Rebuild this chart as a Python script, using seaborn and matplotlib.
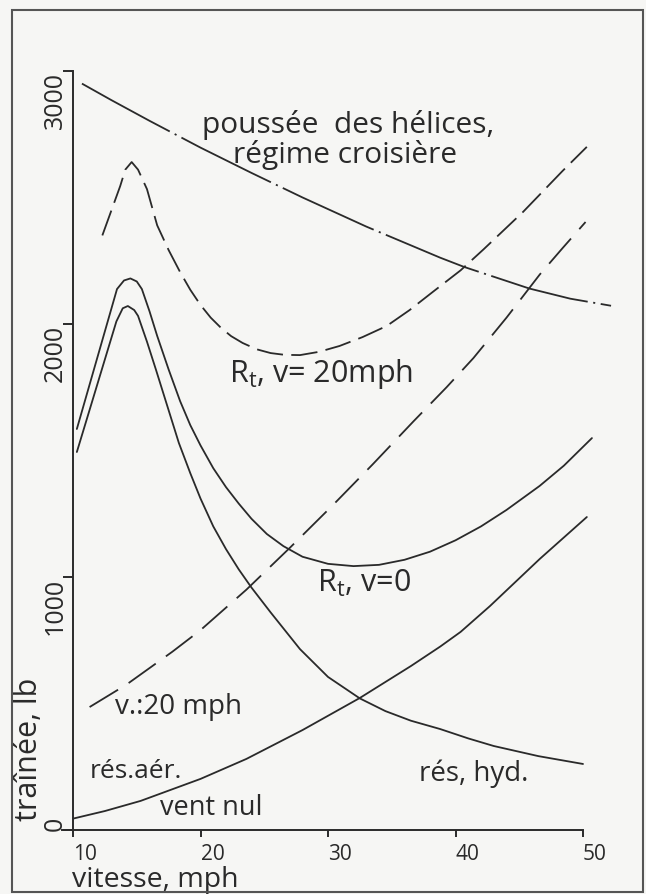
"""Drag vs speed chart (traînée / vitesse) redrawn in seaborn."""

import matplotlib.pyplot as plt
import numpy as np
import pandas as pd
import seaborn as sns
from matplotlib.patches import Rectangle

# propeller thrust, cruise setting (dash-dot)
speed_thrust = [10.7, 13.0, 16.0, 20.0, 24.0, 28.0, 33.0, 38.8, 40.7, 45.8, 49.0, 52.2]
thrust = [2950, 2885, 2803, 2697, 2597, 2500, 2385, 2262, 2225, 2140, 2100, 2072]

# total resistance, wind 20 mph (dashed)
speed_rt20 = [12.3, 13.7, 14.1, 14.6, 15.1, 15.8, 16.6, 17.5, 18.4, 19.2, 20.0, 20.8,
              21.6, 22.4, 23.3, 24.4, 25.5, 26.6, 27.8, 29.3, 30.9, 32.7, 34.6,
              36.4, 38.2, 40.4, 42.2, 45.3, 48.4, 50.3]
rt20 = [2350, 2545, 2610, 2640, 2610, 2533, 2390, 2292, 2205, 2135, 2075, 2025,
        1985, 1952, 1925, 1900, 1885, 1878, 1877, 1890, 1913, 1948, 1992,
        2055, 2126, 2212, 2295, 2443, 2605, 2700]

# total resistance, no wind
speed_rt0 = [10.3, 13.45, 14.0, 14.5, 15.0, 15.4, 16.0, 16.6, 17.5, 18.4, 19.2, 20.0,
             21.0, 22.0, 23.0, 24.0, 25.2, 26.5, 28.0, 30.0, 32.0, 34.0, 36.0,
             38.0, 40.0, 42.0, 44.0, 46.6, 48.5, 50.7]
rt0 = [1585, 2138, 2172, 2180, 2168, 2138, 2050, 1953, 1820, 1695, 1600, 1520,
       1430, 1355, 1290, 1230, 1170, 1122, 1080, 1052, 1043, 1048, 1068,
       1100, 1145, 1200, 1265, 1360, 1440, 1549]

# hydrodynamic resistance
speed_hyd = [10.3, 13.4, 13.9, 14.3, 14.8, 15.1, 15.8, 16.5, 17.4, 18.3, 19.2, 20.0,
             21.0, 22.0, 23.0, 24.0, 25.5, 27.8, 30.0, 32.5, 34.5, 36.5, 38.8,
             41.0, 43.0, 46.5, 50.0]
hyd = [1494, 2010, 2062, 2071, 2055, 2032, 1930, 1820, 1675, 1530, 1410, 1310,
       1200, 1110, 1030, 958, 860, 715, 605, 520, 470, 432, 399,
       362, 332, 292, 261]

# air resistance, no wind
speed_air = [10.0, 12.5, 15.3, 20.0, 23.6, 28.0, 32.5, 36.5, 38.8, 40.4, 42.7, 46.6, 50.3]
air = [45, 75, 115, 202, 281, 395, 522, 648, 725, 783, 885, 1071, 1237]

# air resistance, wind 20 mph (dashed)
speed_air20 = [11.3, 14.2, 17.8, 20.0, 23.6, 27.0, 30.4, 33.5, 36.7, 39.3, 41.4,
               44.0, 46.6, 48.4, 50.2]
air20 = [486, 575, 705, 790, 950, 1115, 1285, 1445, 1615, 1750, 1865,
         2025, 2195, 2300, 2403]

x_ticks = [10, 20, 30, 40, 50]
y_ticks = [0, 1000, 2000, 3000]

INK = "#2a2a2a"
PAPER = "#f6f6f4"

sns.set_theme(style="white")
plt.rcParams["font.family"] = ["Open Sans", "DejaVu Sans"]
plt.rcParams["mathtext.fontset"] = "custom"
plt.rcParams["mathtext.rm"] = "Open Sans"
plt.rcParams["mathtext.it"] = "Open Sans"
plt.rcParams["lines.scale_dashes"] = False

fig = plt.figure(figsize=(6.46, 8.95), dpi=100, facecolor=PAPER)
ax = fig.add_axes([0.0933, 0.0715, 0.898, 0.8905])
ax.set_facecolor(PAPER)
ax.set_xlim(9, 54.5)
ax.set_ylim(0, 3150)

curves = [
    (speed_thrust, thrust, (0, (72, 4, 1.5, 4))),
    (speed_rt20, rt20, (0, (19, 6))),
    (speed_rt0, rt0, "-"),
    (speed_hyd, hyd, "-"),
    (speed_air, air, "-"),
    (speed_air20, air20, (0, (24, 9))),
]
for xs, ys, ls in curves:
    df = pd.DataFrame({"vitesse": xs, "trainee": ys})
    sns.lineplot(data=df, x="vitesse", y="trainee", ax=ax, color=INK,
                 linewidth=1.3, linestyle=ls, estimator=None, sort=False,
                 clip_on=False)

# axes as in the drawing: y axis at 10 mph, x axis at 0 lb
for side in ["top", "right"]:
    ax.spines[side].set_visible(False)
ax.spines["left"].set_position(("data", 10))
ax.spines["left"].set_bounds(0, 3000)
ax.spines["bottom"].set_bounds(9.1, 50)
for side in ["left", "bottom"]:
    ax.spines[side].set_color(INK)
    ax.spines[side].set_linewidth(1.4)

ax.set_xticks(x_ticks, [str(v) for v in x_ticks])
ax.set_yticks(y_ticks, [str(v) for v in y_ticks])
ax.tick_params(axis="x", direction="out", length=5, width=1.4, pad=4,
               color=INK, labelcolor=INK, labelsize=15, bottom=True)
ax.tick_params(axis="y", direction="out", length=7, width=1.4, pad=-3.5,
               color=INK, labelcolor=INK, labelsize=18, left=True)
for lab in ax.get_xticklabels():
    lab.set_ha("left")
for lab, val in zip(ax.get_yticklabels(), y_ticks):
    lab.set_rotation(90)
    lab.set_va("bottom" if val == 0 else "top")

ax.set_xlabel("vitesse, mph", fontsize=20.5, color=INK, ha="left", va="top")
ax.xaxis.set_label_coords(0.02, -0.044)
ax.set_ylabel("traînée, lb", fontsize=22, color=INK, ha="center", va="center")
ax.yaxis.set_label_coords(-0.054, 0.102)

txt = dict(color=INK, va="baseline")
ax.text(31.6, 2758, "poussée  des hélices,", fontsize=21.5, ha="center", **txt)
ax.text(31.3, 2640, "régime croisière", fontsize=21.5, ha="center", **txt)
ax.text(22.2, 1775, r"R$_\mathrm{t}$, v= 20mph", fontsize=22, ha="left", **txt)
ax.text(29.1, 945, r"R$_\mathrm{t}$, v=0", fontsize=22, ha="left", **txt)
ax.text(13.3, 462, "v.:20 mph", fontsize=20, ha="left", **txt)
ax.text(11.3, 209, "rés.aér.", fontsize=19, ha="left", **txt)
ax.text(16.8, 63, "vent nul", fontsize=19.5, ha="left", **txt)
ax.text(37.1, 198, "rés, hyd.", fontsize=20, ha="left", **txt)

# frame around the whole sheet
fig.patches.append(Rectangle((0.0186, 0.0022), 0.9768, 0.9855, transform=fig.transFigure,
                             fill=False, edgecolor="#555555", linewidth=1.5))

fig.savefig("out.png", dpi=100, facecolor=PAPER)
